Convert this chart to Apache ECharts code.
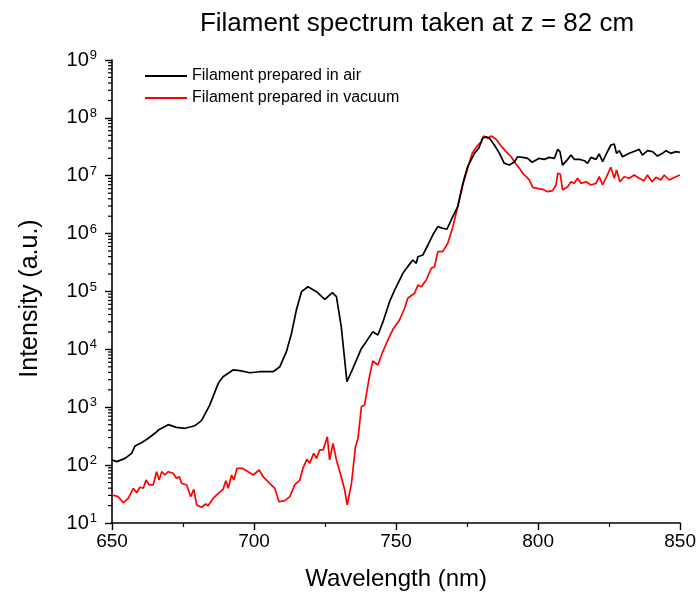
<!DOCTYPE html>
<html>
<head>
<meta charset="utf-8">
<script src="https://cdn.jsdelivr.net/npm/echarts@6/dist/echarts.min.js"></script>
<style>
  html, body { margin: 0; padding: 0; background: #fff; }
  #chart { width: 699px; height: 601px; }
</style>
</head>
<body>
<div id="chart"></div>
<script>
// Spectrum of a filament prepared in air (wavelength in nm, intensity in a.u.)
const airWavelength = [
  650.0,651.7,654.6,656.9,658.1,658.7,660.4,662.8,665.1,666.3,
  669.8,672.7,675.7,679.2,681.5,684.4,687.4,689.1,692.6,695.0,
  698.5,702.0,706.7,709.1,711.4,713.2,714.9,716.7,719.0,722.0,
  724.9,727.6,729.0,730.7,732.7,734.8,737.8,739.5,741.8,743.6,
  745.4,747.7,749.5,752.4,754.1,755.9,757.1,757.7,759.4,761.2,
  762.9,764.7,766.4,767.9,769.4,771.7,773.5,775.2,777.6,779.1,
  780.5,781.7,782.9,784.6,786.4,788.1,789.9,791.7,792.8,794.6,
  796.3,797.9,800.4,802.2,803.9,805.7,806.9,807.7,808.6,810.4,
  811.6,812.7,814.5,816.3,817.4,818.6,820.4,821.5,822.7,824.4,
  825.6,826.8,827.6,828.6,829.7,832.1,834.4,835.6,836.7,838.5,
  840.3,842.0,843.8,845.0,846.7,848.5,849.9
];
const airIntensity = [
  123,115,131,160,214,203,244,291,355,404,
  500,450,433,480,586,1090,2590,3370,4410,4290,
  3950,4110,4110,5020,9120,1.9e4,4.79e4,9.93e4,1.21e5,9.93e4,
  7.33e4,9.53e4,8.13e4,2.47e4,2760,4710,1.04e4,1.36e4,2.02e4,1.77e4,
  3.01e4,6.67e4,1.06e5,2.06e5,2.69e5,3.5e5,3.07e5,3.99e5,4.27e5,6.36e5,
  9.46e5,1.32e6,1.24e6,1.19e6,1.72e6,2.92e6,7.4e6,1.44e7,2.44e7,2.98e7,
  4.44e7,4.73e7,4.44e7,3.4e7,2.44e7,1.64e7,1.53e7,1.75e7,2.13e7,2.08e7,
  2.0e7,1.71e7,2.0e7,1.92e7,2.08e7,2.0e7,2.86e7,2.61e7,1.53e7,1.92e7,
  2.28e7,1.92e7,1.92e7,1.82e7,1.64e7,2.08e7,1.92e7,2.38e7,1.75e7,2.61e7,
  3.4e7,3.54e7,2.44e7,2.71e7,2.13e7,2.44e7,2.71e7,2.86e7,2.28e7,2.71e7,
  2.61e7,2.19e7,2.44e7,2.71e7,2.44e7,2.61e7,2.54e7
];

// Spectrum of a filament prepared in vacuum
const vacWavelength = [
  650.0,652.2,654.0,655.7,657.5,658.7,659.8,661.0,662.0,663.1,
  664.5,665.7,666.6,667.5,668.6,669.8,671.5,672.7,673.7,674.5,
  676.3,677.7,678.8,679.8,681.5,683.0,683.8,685.6,687.4,689.1,
  690.1,690.9,692.1,692.9,694.0,695.9,697.9,699.7,701.8,703.2,
  705.5,707.3,708.8,710.8,712.6,714.3,716.1,717.2,718.6,719.6,
  721.0,722.0,723.1,724.3,725.8,726.6,727.8,729.0,730.7,731.9,
  732.8,734.3,735.7,736.6,737.8,738.9,740.4,741.8,743.6,745.1,
  747.1,748.9,751.2,753.0,754.1,756.5,757.7,758.9,760.6,762.4,
  763.5,764.7,766.4,768.2,770.0,771.7,773.5,775.2,776.8,778.4,
  779.9,780.8,782.3,783.5,785.2,787.0,788.7,790.5,792.0,793.4,
  794.6,795.8,796.9,798.1,799.8,801.6,803.3,805.1,806.3,806.9,
  807.8,808.6,810.4,811.6,812.7,813.9,815.1,816.9,818.6,820.4,
  821.5,822.7,824.1,825.6,826.8,827.6,828.8,830.3,832.1,833.8,
  835.6,837.3,838.5,840.1,841.5,843.2,844.4,846.1,848.5,849.9
];
const vacIntensity = [
  30.5,28.5,22.4,26.7,39.8,33.4,41.4,39.8,55.3,45.4,
  45.4,77,55.3,77,67.5,77,72.2,59.2,63.1,48.5,
  45.4,28.5,38.2,20.5,18.7,21.3,19.7,26.7,32.6,38.2,
  53.8,39.8,67.5,55.3,88.1,88.1,77,67.5,82.4,63.1,
  48.5,39.8,23.3,24.3,28.5,45.4,55.3,88.1,126,108,
  160,131,183,183,310,123,238,123,63.1,37.2,
  20.5,48.5,208,291,1020,1090,2960,6300,5370,8550,
  1.45e4,2.22e4,3.22e4,5.13e4,7.64e4,9.31e4,1.29e5,1.21e5,1.58e5,2.52e5,
  2.69e5,4.88e5,4.88e5,6.81e5,1.32e6,2.92e6,6.92e6,1.35e7,2.44e7,3.18e7,
  3.87e7,4.86e7,4.44e7,4.86e7,4.27e7,3.27e7,2.61e7,2.13e7,1.64e7,1.35e7,
  1.1e7,9.63e6,8.45e6,6.31e6,6.07e6,5.83e6,5.3e6,5.52e6,6.92e6,1.1e7,
  1.07e7,5.68e6,6.47e6,7.89e6,7.4e6,9.04e6,7.4e6,7.89e6,6.92e6,7.4e6,
  9.63e6,6.92e6,9.63e6,1.4e7,9.04e6,1.26e7,7.89e6,9.63e6,9.04e6,1.03e7,
  9.04e6,8.22e6,1.03e7,7.89e6,9.4e6,8.45e6,1.03e7,8.45e6,9.63e6,1.03e7
];

const seriesNames = ['Filament prepared in air', 'Filament prepared in vacuum'];
const xTicks = [650, 700, 750, 800, 850];
const yDecadeExponents = [1, 2, 3, 4, 5, 6, 7, 8, 9];

// Minor log ticks at 2..9 x 10^n inside each decade
const yMinorTicks = [];
for (let e = 1; e < 9; e++) {
  for (let k = 2; k <= 9; k++) yMinorTicks.push(k * Math.pow(10, e));
}

const zip = (xs, ys) => xs.map((x, i) => [x, ys[i]]);
const FONT = 'Liberation Sans, Arial, sans-serif';

const chart = echarts.init(document.getElementById('chart'), null, { renderer: 'canvas' });
chart.setOption({
  backgroundColor: '#ffffff',
  animation: false,
  title: {
    text: 'Filament spectrum taken at z = 82 cm',
    left: 412,
    top: 6,
    textAlign: 'center',
    textStyle: { fontFamily: FONT, fontSize: 26, fontWeight: 'normal', color: '#000' }
  },
  legend: {
    data: seriesNames,
    orient: 'vertical',
    left: 145,
    top: 68,
    padding: 0,
    itemWidth: 42,
    itemHeight: 2,
    itemGap: 6,
    icon: 'rect',
    textStyle: { fontFamily: FONT, fontSize: 16, color: '#000', lineHeight: 16 }
  },
  grid: { left: 112, right: 18, top: 60, bottom: 78, containLabel: false },
  xAxis: {
    type: 'value',
    min: xTicks[0],
    max: xTicks[xTicks.length - 1],
    interval: 50,
    name: 'Wavelength (nm)',
    nameLocation: 'middle',
    nameGap: 44,
    nameTextStyle: { fontFamily: FONT, fontSize: 24, color: '#000' },
    axisLine: { show: true, onZero: false, lineStyle: { color: '#000', width: 1.6 } },
    axisTick: { show: true, inside: false, length: 7, lineStyle: { color: '#000', width: 1.4 } },
    minorTick: { show: true, splitNumber: 2, length: 4, lineStyle: { color: '#000', width: 1.2 } },
    axisLabel: { fontFamily: FONT, fontSize: 19, color: '#000', margin: 9 },
    splitLine: { show: false }
  },
  yAxis: {
    type: 'log',
    logBase: 10,
    min: Math.pow(10, yDecadeExponents[0]),
    max: Math.pow(10, yDecadeExponents[yDecadeExponents.length - 1]),
    splitNumber: 8,
    name: 'Intensity (a.u.)',
    nameLocation: 'middle',
    nameGap: 69,
    nameTextStyle: { fontFamily: FONT, fontSize: 25, color: '#000', padding: [0, 14, 0, 0] },
    axisLine: { show: true, onZero: false, lineStyle: { color: '#000', width: 1.6 } },
    axisTick: { show: true, inside: false, length: 7, lineStyle: { color: '#000', width: 1.4 } },
    axisLabel: {
      margin: 15,
      formatter: function (v) {
        const e = Math.round(Math.log10(v));
        return '{b|10}{s|' + e + '}';
      },
      rich: {
        b: { fontFamily: FONT, fontSize: 20, color: '#000', lineHeight: 22 },
        s: { fontFamily: FONT, fontSize: 13, color: '#000', verticalAlign: 'top', lineHeight: 13, padding: [0, 0, 0, 1] }
      }
    },
    splitLine: { show: false }
  },
  series: [
    {
      name: seriesNames[0],
      type: 'line',
      data: zip(airWavelength, airIntensity),
      showSymbol: false,
      symbol: 'none',
      lineStyle: { color: '#000000', width: 1.7 },
      itemStyle: { color: '#000000' },
      z: 3
    },
    {
      name: seriesNames[1],
      type: 'line',
      data: zip(vacWavelength, vacIntensity),
      showSymbol: false,
      symbol: 'none',
      lineStyle: { color: '#ff0000', width: 1.7 },
      itemStyle: { color: '#ff0000' },
      z: 2
    },
    {
      // minor ticks of the logarithmic intensity axis
      name: 'yMinorTicks',
      type: 'custom',
      clip: false,
      silent: true,
      data: yMinorTicks.map(v => [xTicks[0], v]),
      encode: { x: 0, y: 1 },
      renderItem: function (params, api) {
        const p = api.coord([api.value(0), api.value(1)]);
        return {
          type: 'line',
          shape: { x1: p[0] - 4, y1: p[1], x2: p[0], y2: p[1] },
          style: { stroke: '#000', lineWidth: 1.2 }
        };
      },
      z: 5
    }
  ]
});
</script>
</body>
</html>
